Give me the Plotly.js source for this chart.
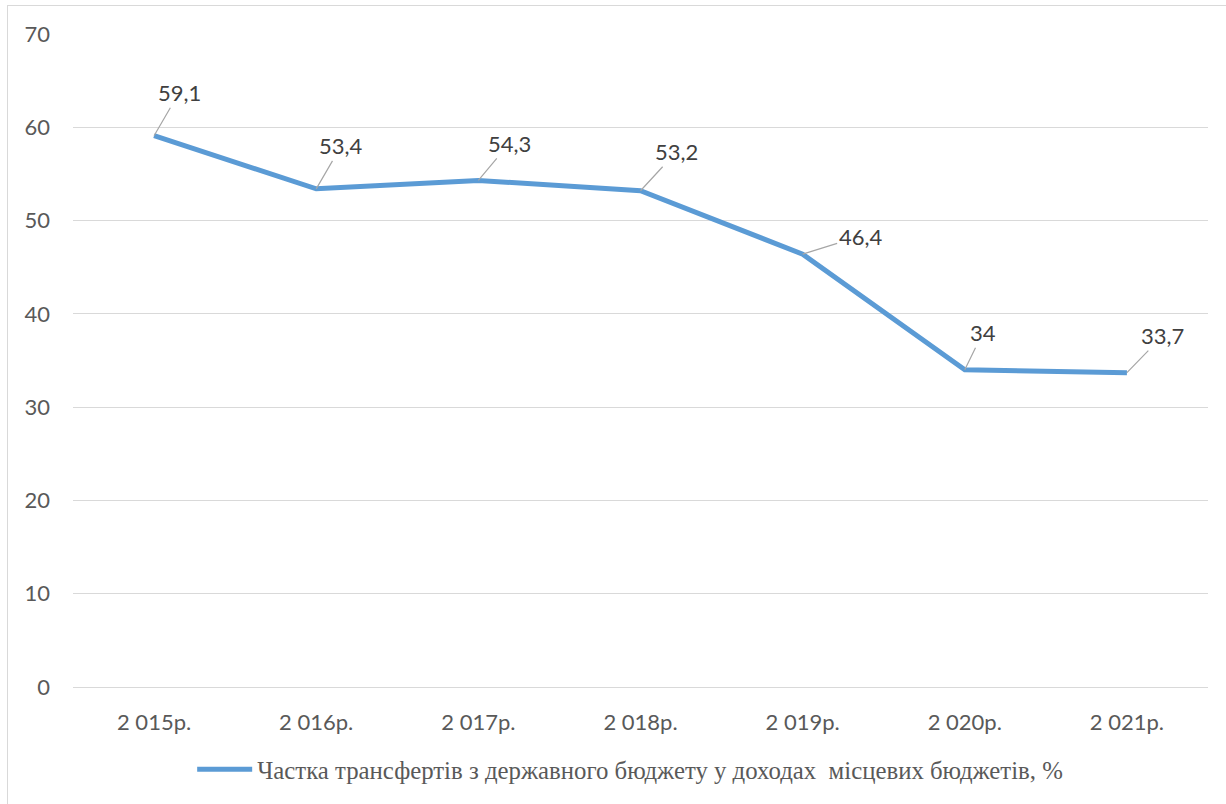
<!DOCTYPE html>
<html>
<head>
<meta charset="utf-8">
<script src="https://cdn.plot.ly/plotly-3.0.1.min.js"></script>
<style>
html,body{margin:0;padding:0;background:#fff;overflow:hidden;}
#chart{width:1226px;height:804px;}
#frame{position:absolute;left:7px;top:5px;width:1240px;height:820px;border:1px solid #d9d9d9;pointer-events:none;}
</style>
</head>
<body>
<div id="chart"></div>
<div id="frame"></div>
<script>
const categories = ["2 015р.", "2 016р.", "2 017р.", "2 018р.", "2 019р.", "2 020р.", "2 021р."];
const values = [59.1, 53.4, 54.3, 53.2, 46.4, 34, 33.7];
const valueLabels = ["59,1", "53,4", "54,3", "53,2", "46,4", "34", "33,7"];
const seriesName = "Частка трансфертів з державного бюджету у доходах  місцевих бюджетів, %";
const yTicks = [0, 10, 20, 30, 40, 50, 60, 70];

// label offsets in pixels (style only)
const labelOffsets = [[25,-43],[25,-43],[31,-37],[36,-39],[58,-18],[18,-37],[36,-37]];

const trace = {
  x: categories,
  y: values,
  type: 'scatter',
  mode: 'lines',
  name: seriesName,
  line: {color: '#5B9BD5', width: 5},
  hoverinfo: 'skip'
};

const annotations = categories.map((c, i) => ({
  x: c, y: values[i], xref: 'x', yref: 'y',
  text: valueLabels[i],
  showarrow: true,
  arrowhead: 0,
  arrowwidth: 1.2,
  arrowcolor: '#a6a6a6',
  ax: labelOffsets[i][0],
  ay: labelOffsets[i][1],
  axref: 'pixel', ayref: 'pixel',
  standoff: 0,
  font: {family: 'Lato, sans-serif', size: 22, color: '#404040'}
}));

const layout = {
  width: 1226,
  height: 804,
  margin: {l: 73, r: 18, t: 34, b: 116},
  paper_bgcolor: '#ffffff',
  plot_bgcolor: '#ffffff',
  showlegend: true,
  legend: {
    orientation: 'h',
    x: 0.105, xanchor: 'left',
    y: -0.125, yanchor: 'middle',
    itemwidth: 55,
    font: {family: '"Liberation Serif", "Times New Roman", serif', size: 24.8, color: '#595959'},
    bgcolor: 'rgba(0,0,0,0)'
  },
  xaxis: {
    type: 'category',
    range: [-0.5, 6.5],
    showgrid: false,
    showline: false,
    zeroline: false,
    ticks: '',
    ticklabelstandoff: 20,
    tickfont: {family: 'Lato, sans-serif', size: 22, color: '#595959'},
    fixedrange: true
  },
  yaxis: {
    range: [0, 70],
    tickvals: yTicks,
    ticktext: yTicks.map(String),
    showgrid: true,
    gridcolor: '#d9d9d9',
    gridwidth: 1,
    zeroline: true,
    zerolinecolor: '#d9d9d9',
    zerolinewidth: 1,
    showline: false,
    ticks: '',
    ticklabelstandoff: 22,
    tickfont: {family: 'Lato, sans-serif', size: 22, color: '#595959'},
    fixedrange: true
  },
  annotations: annotations
};

Plotly.newPlot('chart', [trace], layout, {staticPlot: true, displayModeBar: false});
</script>
</body>
</html>
